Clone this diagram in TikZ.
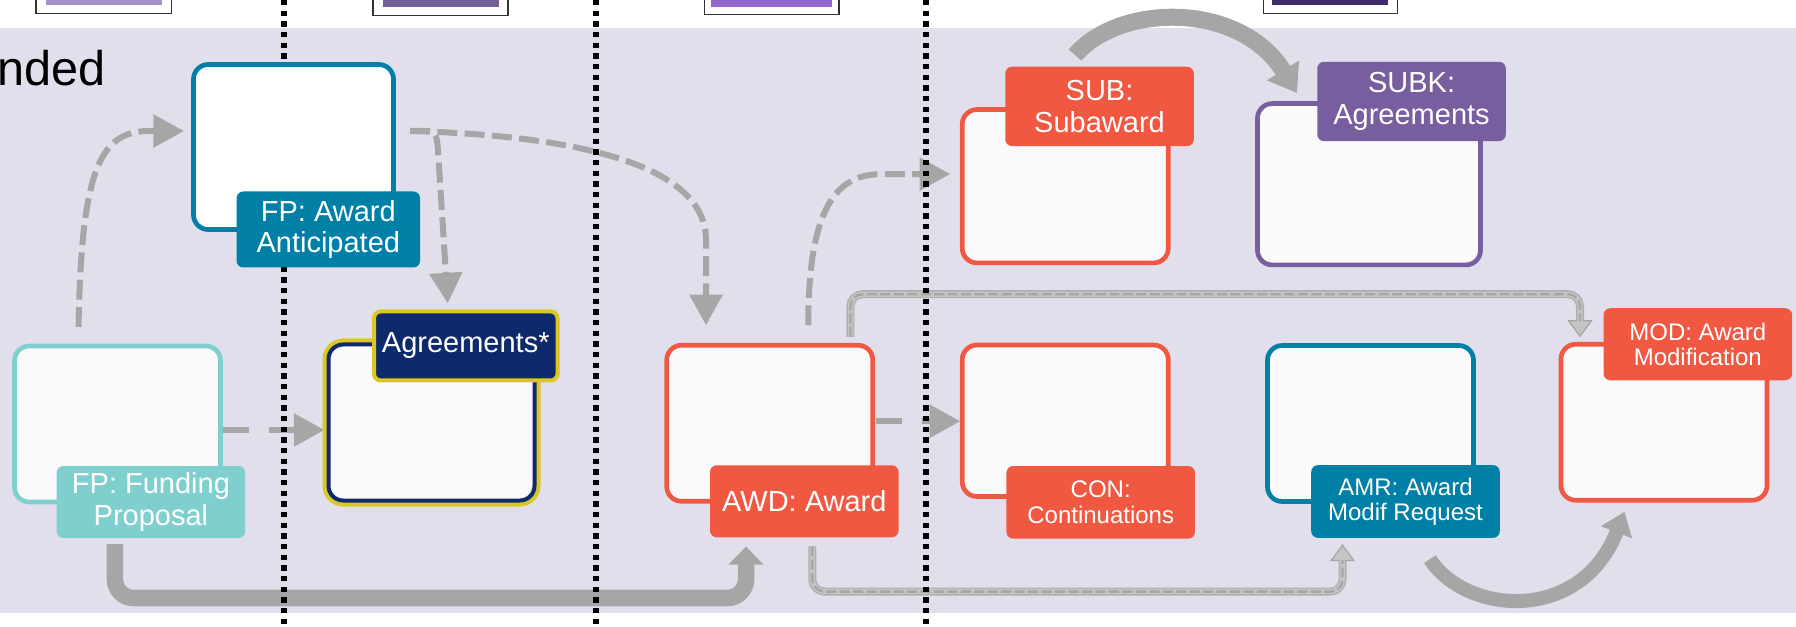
\documentclass[tikz,border=0pt]{standalone}
\usepackage{fontspec}
\setmainfont{Liberation Sans}
\usepackage{tikz}
\usetikzlibrary{calc,arrows.meta,backgrounds}
\definecolor{Lavender}{RGB}{226,223,236}
\definecolor{BoxFill}{RGB}{250,250,253}
\definecolor{TealLight}{RGB}{128,207,207}
\definecolor{TealDark}{RGB}{0,128,166}
\definecolor{CoralRed}{RGB}{240,88,66}
\definecolor{SubkPurple}{RGB}{120,94,158}
\definecolor{NavyBlue}{RGB}{14,42,106}
\definecolor{GoldLine}{RGB}{220,198,36}
\definecolor{FlowGray}{RGB}{166,166,166}
\definecolor{PaleGray}{RGB}{196,196,196}
\definecolor{KeyLilac}{RGB}{164,145,204}
\definecolor{KeyPlum}{RGB}{116,96,150}
\definecolor{KeyViolet}{RGB}{147,102,204}
\definecolor{KeyInk}{RGB}{63,45,107}
\newcommand{\biglbl}{\fontsize{21.75pt}{23.6pt}\selectfont}
\newcommand{\smalllbl}{\fontsize{18pt}{19pt}\selectfont}
\tikzset{
  box/.style={draw=#1,fill=BoxFill,line width=3.5pt,rounded corners=11pt,
    minimum width=154.5pt,minimum height=117pt,inner sep=0pt,outer sep=0pt},
  tag/.style={fill=#1,text=white,rounded corners=5pt,minimum width=141.4pt,
    minimum height=54pt,inner sep=0pt,outer sep=0pt,align=center,font=\biglbl},
  dashflow/.style={draw=FlowGray,line width=4.5pt,dash pattern=on 15pt off 5.5pt,
    -{Triangle[length=23pt,width=24pt]}},
  longdash/.style={dash pattern=on 19.5pt off 15pt},
  hollow/.style={draw=FlowGray!90,line width=6pt,rounded corners=9pt,
    -{Triangle[length=12.75pt,width=18.75pt,color=FlowGray,fill=PaleGray,line width=0.9pt]},
    postaction={draw=PaleGray,line width=4pt,shorten >=11pt,-},
    postaction={draw=FlowGray,line width=1.8pt,dash pattern=on 7.5pt off 2.6pt,shorten >=12pt,-}},
  bigflow/.style={draw=FlowGray,line width=#1},
  divider/.style={draw=black,line width=3.8pt,dash pattern=on 4pt off 4pt},
  keybox/.style={draw=black!80,fill=white,line width=0.9pt},
}

\begin{document}
\begin{tikzpicture}[x=0.75pt,y=-0.75pt]
\useasboundingbox (0,0) rectangle (1796,627);
% record boxes
\node[box=TealLight] (fpbox) at (117.5,424) {};
\node[box=TealDark,fill=white,minimum width=150pt,minimum height=123.75pt] (fpaabox) at (293.5,147) {};
\node[box=NavyBlue,line width=3pt,preaction={draw=GoldLine,line width=9pt}] (agrbox) at (431.5,422.5) {};
\node[box=CoralRed] (awdbox) at (769.75,423.25) {};
\node[box=CoralRed,minimum height=113.6pt] (conbox) at (1065.25,420.75) {};
\node[box=TealDark] (amrbox) at (1370.5,423.5) {};
\node[box=CoralRed] (modbox) at (1664,422.25) {};
\node[box=CoralRed,minimum height=115pt] (subbox) at (1065.25,186.25) {};
\node[box=SubkPurple,minimum width=167.25pt,minimum height=121pt] (subkbox) at (1369,184.25) {};
% labels
\node[tag=TealLight] (fplbl) at ([xshift=25.1pt]fpbox.south) {FP: Funding\\Proposal};
\node[tag=TealDark,minimum width=137.6pt,minimum height=57pt] (fpaalbl) at ([xshift=26.1pt]fpaabox.south) {FP: Award\\Anticipated};
\node[tag=NavyBlue,draw=GoldLine,line width=3pt,minimum width=137.6pt,minimum height=51.75pt] (agrlbl) at ([xshift=25.7pt,yshift=-1.1pt]agrbox.north) {Agreements*};
\node[tag=CoralRed] (awdlbl) at ([xshift=25.9pt]awdbox.south) {AWD: Award};
\node[tag=CoralRed,font=\smalllbl,minimum height=54.5pt] (conlbl) at ([xshift=26.6pt,yshift=-4.4pt]conbox.south) {CON:\\Continuations};
\node[tag=TealDark,font=\smalllbl,minimum height=54.5pt] (amrlbl) at ([xshift=26.25pt]amrbox.south) {AMR: Award\\Modif Request};
\node[tag=CoralRed,font=\smalllbl] (modlbl) at ([xshift=25.35pt]modbox.north) {MOD: Award\\Modification};
\node[tag=CoralRed,minimum height=59.5pt] (sublbl) at ([xshift=25.7pt,yshift=2.4pt]subbox.north) {SUB:\\Subaward};
\node[tag=SubkPurple,minimum height=59.5pt] (subklbl) at ([xshift=31.9pt,yshift=1.6pt]subkbox.north) {SUBK:\\Agreements};
\node[anchor=base west,inner sep=0pt,font=\fontsize{36.5pt}{40pt}\selectfont] (title) at (-3,86) {nded};

\begin{pgfonlayer}{background}
\fill[white] (0,0) rectangle (1796,627);
\fill[Lavender] (0,28) rectangle (1796,613);
% cut-off key boxes along the top
\draw[keybox] (36,-5) rectangle (171.5,13.3);
\fill[KeyLilac] (46,-5) rectangle (162,5.3);
\draw[keybox] (373,-5) rectangle (508,15.3);
\fill[KeyPlum] (383,-5) rectangle (499,7.3);
\draw[keybox] (704.5,-5) rectangle (839,14.3);
\fill[KeyViolet] (711,-5) rectangle (831.5,7.3);
\draw[keybox] (1263.5,-5) rectangle (1397.6,13.3);
\fill[KeyInk] (1272,-5) rectangle (1388,5);
% flows
\draw[dashflow] ($(fpbox.north west)+(64,-19)$) .. controls +(3,-157) and +(-50,0) .. ++(71,-196) -- ($(fpaabox.west)+(-9.5,-16)$);
\draw[dashflow] ($(fpaabox.east)+(16.5,-16)$) -- ++(18,0) .. controls +(8,0) and +(-1,-12) .. ++(10,19) -- ($(agrlbl.north)+(-18,-8)$);
\draw[dashflow] ($(fpaabox.east)+(16.5,-16)$) .. controls +(150,4) and +(0,-80) .. ++(296,109) -- ($(awdbox.north)+(-63.75,-20)$);
\draw[dashflow,longdash] ($(fpbox.east)+(2,6)$) -- ($(agrbox.west)+(-4,7.5)$);
\draw[dashflow] ($(awdbox.north)+(38.5,-20)$) .. controls +(0,-105) and +(-50,0) .. ++(72,-151) -- ($(subbox.west)+(-12,-12.25)$);
\draw[dashflow,longdash] ($(awdbox.east)+(3,-2)$) -- ($(conbox.west)+(-2,0.5)$);
\draw[hollow] ($(awdbox.north east)+(-22.3,-8.3)$) -- ++(0,-42.7) -| ($(modbox.north west)+(19,-7)$);
\draw[hollow] ($(awdlbl.south)+(8,9)$) -- ++(0,45.3) -| ($(amrlbl.south)+(-63,6.3)$);
\draw[bigflow=12.4pt,rounded corners=14pt,-{Triangle[length=13.5pt,width=25.5pt]}] ($(fplbl.south)+(-36,6)$) -- ++(0,54) -| ($(awdlbl.south)+(-58.25,9.3)$);
\draw[bigflow=12.75pt,-{Triangle[length=20pt,width=27pt]}] ($(sublbl.north)+(-24.5,-11.7)$) .. controls +(45,-52) and +(-57,-92) .. ($(subkbox.north west)+(39.5,-10.5)$);
\draw[bigflow=10.5pt,-{Triangle[length=16.5pt,width=24pt]}] ($(amrlbl.south)+(24.5,21.3)$) .. controls +(35,55) and +(-44,113) .. ($(modbox.south west)+(63.5,11.5)$);
% column dividers
\foreach \xd in {284,596,926}
  \draw[divider] (\xd,0) -- (\xd,627);
\end{pgfonlayer}
\end{tikzpicture}
\end{document}
